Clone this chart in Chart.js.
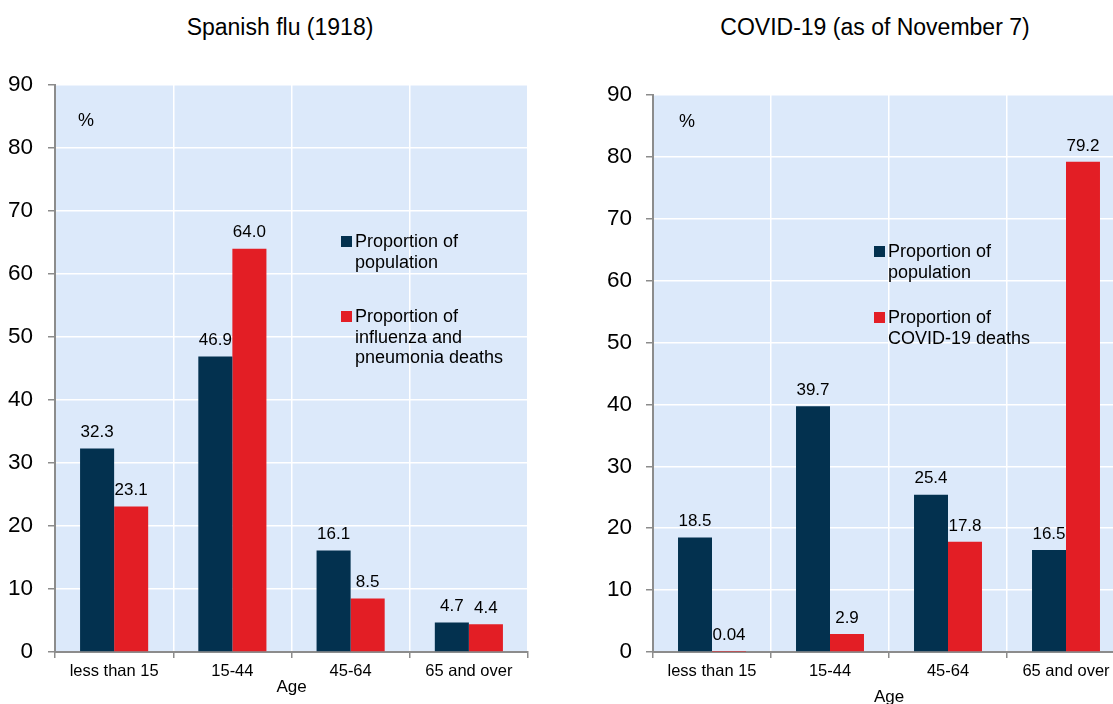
<!DOCTYPE html>
<html>
<head>
<meta charset="utf-8">
<script src="https://cdn.jsdelivr.net/npm/chart.js@4.4.0/dist/chart.umd.min.js"></script>
<style>
body{margin:0;width:1113px;height:704px;overflow:hidden;background:#fff;position:relative;font-family:"Liberation Sans",Arial,sans-serif}
.title{position:absolute;top:14px;font-size:23px;text-align:center;color:#000}
#w1{position:absolute;left:0;top:0}
#w2{position:absolute;left:560px;top:0}
</style>
</head>
<body>
<div class="title" style="left:0;width:560px">Spanish flu (1918)</div>
<div class="title" style="left:560px;width:630px">COVID-19 (as of November 7)</div>
<canvas id="w1" width="560" height="704"></canvas>
<canvas id="w2" width="600" height="720"></canvas>
<script>
const ageGroups = ['less than 15', '15-44', '45-64', '65 and over'];
const fluPopulation = [32.3, 46.9, 16.1, 4.7];
const fluDeaths = [23.1, 64.0, 8.5, 4.4];
const covidPopulation = [18.5, 39.7, 25.4, 16.5];
const covidDeaths = [0.04, 2.9, 17.8, 79.2];
const fluLegend = [['Proportion of', 'population'], ['Proportion of', 'influenza and', 'pneumonia deaths']];
const covidLegend = [['Proportion of', 'population'], ['Proportion of', 'COVID-19 deaths']];

const navy = '#03314F';
const red = '#E31E25';
const font = '"Liberation Sans", Arial, sans-serif';

// background, value labels, % sign and the legend inside the plot
const extras = {
    id: 'extras',
    beforeDraw(chart) {
        const a = chart.chartArea, ctx = chart.ctx;
        ctx.save();
        ctx.fillStyle = '#DCE9FA';
        ctx.fillRect(a.left, a.top, a.right - a.left, a.bottom - a.top);
        ctx.restore();
    },
    afterDatasetsDraw(chart, args, opts) {
        const ctx = chart.ctx;
        ctx.save();
        ctx.fillStyle = '#000';
        ctx.font = '17px ' + font;
        ctx.textAlign = 'center';
        ctx.textBaseline = 'middle';
        chart.data.datasets.forEach((ds, i) => {
            chart.getDatasetMeta(i).data.forEach((bar, j) => {
                const v = ds.data[j];
                ctx.fillText(v < 0.1 ? String(v) : v.toFixed(1), bar.x, bar.y - 16);
            });
        });
        ctx.textAlign = 'left';
        ctx.font = '18px ' + font;
        ctx.fillText('%', opts.pct[0], opts.pct[1]);
        opts.legend.forEach((it, i) => {
            ctx.fillStyle = chart.data.datasets[i].backgroundColor;
            ctx.fillRect(it.x, it.y - 5, 11, 11);
            ctx.fillStyle = '#000';
            opts.lines[i].forEach((line, k) => ctx.fillText(line, it.x + 14, it.y + 1 + k * 20.7));
        });
        ctx.restore();
    }
};

function makeChart(id, pop, deaths, lines, cfg) {
    new Chart(document.getElementById(id), {
        type: 'bar',
        data: {
            labels: ageGroups,
            datasets: [
                {label: lines[0].join(' '), data: pop, backgroundColor: navy, borderWidth: 0,
                    categoryPercentage: 0.576, barPercentage: 1},
                {label: lines[1].join(' '), data: deaths, backgroundColor: red, borderWidth: 0,
                    categoryPercentage: 0.576, barPercentage: 1}
            ]
        },
        options: {
            responsive: false,
            animation: false,
            layout: {padding: cfg.padding},
            plugins: {
                legend: {display: false},
                tooltip: {enabled: false},
                extras: {pct: cfg.pct, legend: cfg.legend, lines: lines}
            },
            scales: {
                x: {
                    grid: {color: c => c.index === 0 ? 'rgba(0,0,0,0)' : '#fff', lineWidth: 1.5,
                        tickColor: '#8c8c8c', tickLength: 6, offset: true},
                    border: {color: '#8c8c8c', width: 2},
                    ticks: {color: '#000', font: {size: 16.5, family: font}, padding: 4, maxRotation: 0, autoSkip: false},
                    title: {display: true, text: 'Age', color: '#000', font: {size: 17, family: font}, padding: 0},
                    afterFit(s) { s.height = cfg.xH; }
                },
                y: {
                    min: 0, max: 90,
                    ticks: {stepSize: 10, color: '#000', font: {size: 22.5, family: font}, padding: cfg.yPad},
                    grid: {color: c => c.tick && c.tick.value === 0 ? 'rgba(0,0,0,0)' : '#fff', lineWidth: 1.5,
                        tickColor: '#8c8c8c', tickLength: 7},
                    border: {color: '#8c8c8c', width: 2},
                    afterFit(s) { s.width = cfg.yW; }
                }
            }
        },
        plugins: [extras]
    });
}

makeChart('w1', fluPopulation, fluDeaths, fluLegend, {
    padding: {top: 85, right: 32, bottom: 6, left: 0}, xH: 46, yW: 55, yPad: 15,
    pct: [78, 121], legend: [{x: 341, y: 241}, {x: 341, y: 316}]
});
makeChart('w2', covidPopulation, covidDeaths, covidLegend, {
    padding: {top: 95, right: 35, bottom: 12, left: 0}, xH: 56, yW: 93, yPad: 14,
    pct: [119, 122], legend: [{x: 314, y: 251}, {x: 314, y: 317}]
});
</script>
</body>
</html>
